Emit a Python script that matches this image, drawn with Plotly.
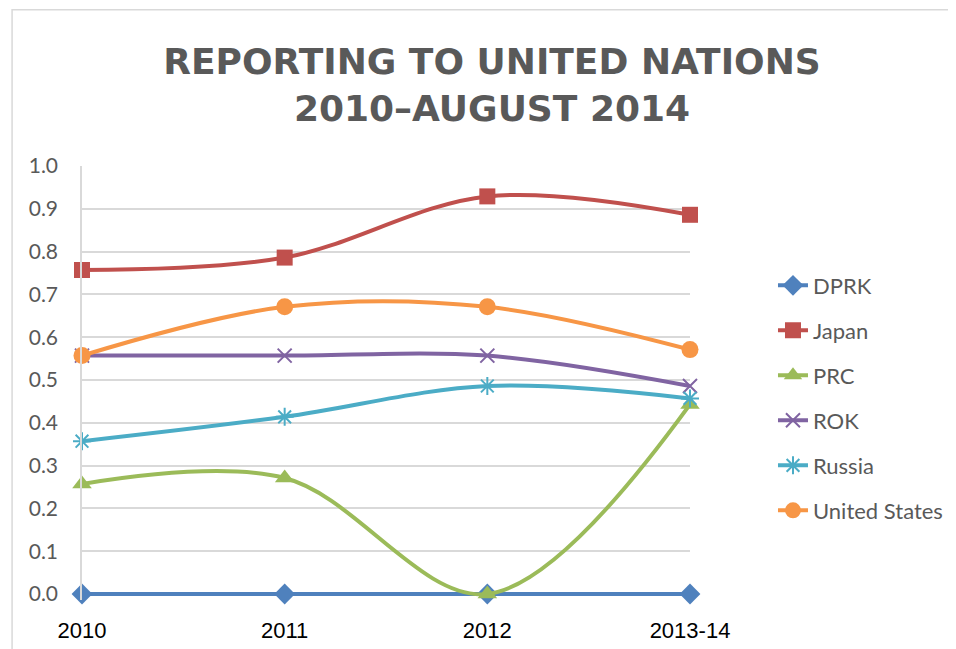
import plotly.graph_objects as go

categories = ["2010", "2011", "2012", "2013-14"]
dprk = [0.0, 0.0, 0.0, 0.0]
japan = [0.757, 0.786, 0.929, 0.886]
prc = [0.257, 0.271, 0.0, 0.443]
rok = [0.557, 0.557, 0.557, 0.486]
russia = [0.357, 0.414, 0.486, 0.457]
united_states = [0.557, 0.671, 0.671, 0.571]
y_ticks = [0.0, 0.1, 0.2, 0.3, 0.4, 0.5, 0.6, 0.7, 0.8, 0.9, 1.0]

series = [
    ("DPRK", dprk, "#4F81BD", "diamond", 16),
    ("Japan", japan, "#C0504D", "square", 16),
    ("PRC", prc, "#9BBB59", "triangle-up", 17),
    ("ROK", rok, "#8064A2", "x-thin-open", 14),
    ("Russia", russia, "#4BACC6", "asterisk-open", 15),
    ("United States", united_states, "#F79646", "circle", 17),
]

fig = go.Figure()
for name, vals, color, sym, size in series:
    open_sym = sym.endswith("open")
    fig.add_trace(go.Scatter(
        x=list(range(len(categories))), y=vals, name=name, mode="lines+markers",
        legendgroup=name,
        line=dict(color=color, width=4, shape="spline", smoothing=1.0),
        marker=dict(symbol=sym, size=size, color=color,
                    line=dict(color=color, width=2 if open_sym else 0)),
        cliponaxis=False,
    ))

fig.update_layout(
    width=948, height=641,
    margin=dict(l=74, r=266, t=158, b=49, autoexpand=False),
    paper_bgcolor="white", plot_bgcolor="white",
    title=dict(text="<b>REPORTING TO UNITED NATIONS<br>2010–AUGUST 2014</b>",
               x=484 / 948, xanchor="center", y=1 - 66 / 641, yanchor="middle",
               font=dict(family="DejaVu Sans", size=36, color="#595959")),
    legend=dict(x=1.1365, xanchor="left", y=0.4654, yanchor="middle",
                font=dict(family="Lato", size=22, color="#595959"),
                tracegroupgap=13.4, bgcolor="rgba(0,0,0,0)"),
    showlegend=True,
    shapes=[dict(type="rect", xref="paper", yref="paper",
                 x0=-0.115, x1=1.6, y0=-0.5, y1=1.36,
                 line=dict(color="#D9D9D9", width=1.5), layer="below")],
)
fig.update_xaxes(
    range=[0, 3], tickvals=list(range(len(categories))), ticktext=categories,
    showgrid=False, zeroline=False, showline=False, automargin=False,
    ticks="outside", ticklen=11, tickcolor="rgba(0,0,0,0)",
    tickfont=dict(family="Liberation Sans", size=22, color="#000000"),
)
fig.update_yaxes(
    range=[-0.014, 1], tickvals=y_ticks, ticktext=[f"{v:.1f}" for v in y_ticks],
    showgrid=True, gridcolor="#D9D9D9", gridwidth=1.5, zeroline=False,
    showline=True, linecolor="#D9D9D9", linewidth=1.5, automargin=False,
    ticks="outside", ticklen=18, tickcolor="rgba(0,0,0,0)",
    tickfont=dict(family="Lato", size=21, color="#595959"),
)
fig.write_html("out.html")
